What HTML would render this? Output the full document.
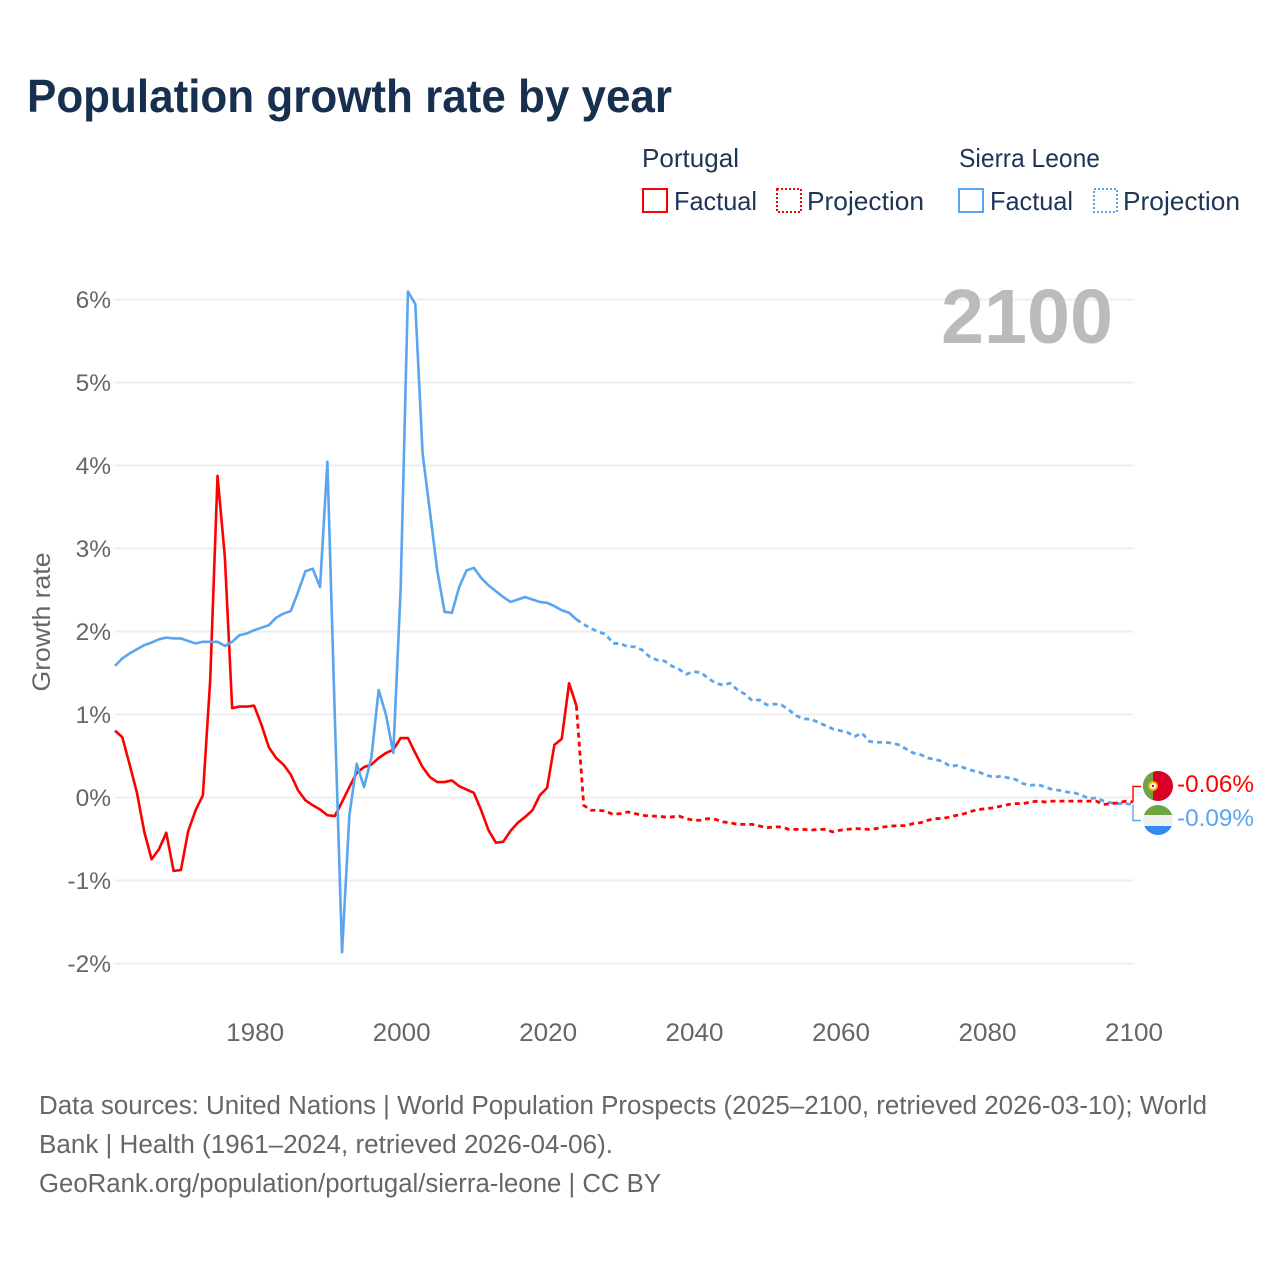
<!DOCTYPE html>
<html lang="en">
<head>
<meta charset="utf-8">
<title>Population growth rate by year</title>
<style>
html,body{margin:0;padding:0;background:#fff;}
svg{display:block;font-family:"Liberation Sans",sans-serif;}
</style>
</head>
<body>
<svg id="chart" xmlns="http://www.w3.org/2000/svg" width="1280" height="1280" viewBox="0 0 1280 1280">
  <rect width="1280" height="1280" fill="#fff"/>
  <text x="27" y="112" font-size="46" font-weight="700" fill="#18304f" textLength="645" lengthAdjust="spacingAndGlyphs">Population growth rate by year</text>

  <g font-size="26" fill="#1d3557">
    <text x="642" y="167" textLength="97" lengthAdjust="spacingAndGlyphs">Portugal</text>
    <rect x="643" y="189" width="24" height="23" fill="none" stroke="#ff0000" stroke-width="2"/>
    <text x="674" y="210" textLength="83" lengthAdjust="spacingAndGlyphs">Factual</text>
    <rect x="777" y="189" width="24" height="23" fill="none" stroke="#ff0000" stroke-width="2" stroke-dasharray="2 2"/>
    <text x="807" y="210" textLength="117" lengthAdjust="spacingAndGlyphs">Projection</text>
    <text x="959" y="167" textLength="141" lengthAdjust="spacingAndGlyphs">Sierra Leone</text>
    <rect x="959" y="189" width="24" height="23" fill="none" stroke="#5aa5ef" stroke-width="2"/>
    <text x="990" y="210" textLength="83" lengthAdjust="spacingAndGlyphs">Factual</text>
    <rect x="1094" y="189" width="23" height="23" fill="none" stroke="#5aa5ef" stroke-width="2" stroke-dasharray="2 2"/>
    <text x="1123" y="210" textLength="117" lengthAdjust="spacingAndGlyphs">Projection</text>
  </g>

  <g id="grid"></g>
  <g id="y-ticks"></g>
  <g id="x-ticks"></g>
  <text transform="translate(50,622) rotate(-90)" text-anchor="middle" font-size="25" fill="#666" textLength="139" lengthAdjust="spacingAndGlyphs">Growth rate</text>

  <text x="941" y="343" font-size="77" font-weight="700" fill="#bbbbbb" textLength="172" lengthAdjust="spacingAndGlyphs">2100</text>

  <g id="series"></g>
  <g id="connectors"></g>

  <defs>
    <clipPath id="clip-pt"><circle cx="1158" cy="786" r="15"/></clipPath>
    <clipPath id="clip-sl"><circle cx="1158" cy="820" r="15"/></clipPath>
  </defs>
  <g clip-path="url(#clip-pt)">
    <rect x="1143" y="771" width="30" height="30" fill="#d80027"/>
    <rect x="1143" y="771" width="10" height="30" fill="#6da544"/>
    <circle cx="1153" cy="786" r="4" fill="#fff" stroke="#f7b500" stroke-width="2"/>
    <rect x="1152" y="785" width="2" height="2" fill="#d80027"/>
  </g>
  <g clip-path="url(#clip-sl)">
    <rect x="1143" y="805" width="30" height="10" fill="#6da544"/>
    <rect x="1143" y="815" width="30" height="11" fill="#f0f0f0"/>
    <rect x="1143" y="826" width="30" height="9" fill="#338af3"/>
  </g>
  <text x="1177" y="792" font-size="24" fill="#ff0000" textLength="77" lengthAdjust="spacingAndGlyphs">-0.06%</text>
  <text x="1177" y="826" font-size="24" fill="#5aa5ef" textLength="77" lengthAdjust="spacingAndGlyphs">-0.09%</text>

  <g font-size="25.5" fill="#666">
    <text x="39" y="1114" textLength="1168" lengthAdjust="spacingAndGlyphs">Data sources: United Nations | World Population Prospects (2025–2100, retrieved 2026-03-10); World</text>
    <text x="39" y="1153" textLength="574" lengthAdjust="spacingAndGlyphs">Bank | Health (1961–2024, retrieved 2026-04-06).</text>
    <text x="39" y="1192" textLength="622" lengthAdjust="spacingAndGlyphs">GeoRank.org/population/portugal/sierra-leone | CC BY</text>
  </g>
</svg>
<script>
const yTickValues = [6, 5, 4, 3, 2, 1, 0, -1, -2];
const yTickLabels = ["6%", "5%", "4%", "3%", "2%", "1%", "0%", "-1%", "-2%"];
const xTickYears = [1980, 2000, 2020, 2040, 2060, 2080, 2100];
const xTickLabels = ["1980", "2000", "2020", "2040", "2060", "2080", "2100"];

const factualStartYear = 1961;
const projectionStartYear = 2024;

const portugalFactual = [0.80,0.72,0.39,0.05,-0.42,-0.75,-0.63,-0.43,-0.89,-0.88,-0.41,-0.16,0.02,1.41,3.87,2.89,1.07,1.09,1.09,1.10,
  0.87,0.60,0.47,0.39,0.27,0.08,-0.04,-0.10,-0.15,-0.22,-0.23,-0.06,0.12,0.29,0.36,0.39,0.47,0.53,0.57,0.71,
  0.71,0.53,0.36,0.24,0.18,0.18,0.20,0.13,0.09,0.05,-0.16,-0.40,-0.55,-0.54,-0.41,-0.31,-0.24,-0.16,0.02,0.11,
  0.63,0.70,1.37,1.10];
const portugalProjection = [1.10,-0.10,-0.16,-0.16,-0.17,-0.21,-0.20,-0.18,-0.20,-0.22,-0.23,-0.23,-0.24,-0.24,-0.23,-0.26,-0.28,-0.28,-0.26,-0.27,
  -0.30,-0.31,-0.33,-0.33,-0.33,-0.35,-0.37,-0.36,-0.36,-0.39,-0.39,-0.39,-0.40,-0.39,-0.39,-0.42,-0.40,-0.39,-0.38,-0.385,
  -0.39,-0.38,-0.36,-0.35,-0.345,-0.345,-0.32,-0.31,-0.28,-0.26,-0.26,-0.24,-0.22,-0.20,-0.17,-0.15,-0.14,-0.13,-0.11,-0.09,
  -0.08,-0.08,-0.06,-0.05,-0.06,-0.05,-0.05,-0.05,-0.05,-0.05,-0.05,-0.05,-0.09,-0.08,-0.07,-0.05,-0.06];

const sierraLeoneFactual = [1.58,1.67,1.73,1.78,1.83,1.86,1.90,1.92,1.91,1.91,1.88,1.85,1.87,1.87,1.87,1.82,1.87,1.95,1.97,2.01,
  2.04,2.07,2.16,2.21,2.24,2.47,2.72,2.75,2.53,4.04,1.01,-1.87,-0.22,0.40,0.12,0.47,1.29,0.99,0.53,2.50,
  6.09,5.94,4.14,3.44,2.73,2.23,2.22,2.53,2.73,2.76,2.64,2.55,2.48,2.41,2.35,2.38,2.41,2.38,2.35,2.34,
  2.30,2.25,2.22,2.14];
const sierraLeoneProjection = [2.14,2.08,2.03,1.99,1.96,1.85,1.85,1.81,1.81,1.77,1.69,1.65,1.64,1.58,1.54,1.48,1.51,1.50,1.43,1.37,
  1.35,1.37,1.29,1.24,1.16,1.17,1.11,1.12,1.11,1.05,0.98,0.94,0.94,0.90,0.86,0.82,0.80,0.78,0.73,0.77,
  0.67,0.66,0.66,0.65,0.63,0.58,0.53,0.51,0.47,0.45,0.43,0.37,0.38,0.35,0.32,0.30,0.26,0.24,0.25,0.23,
  0.21,0.16,0.14,0.15,0.12,0.09,0.08,0.06,0.05,0.02,-0.02,-0.01,-0.05,-0.07,-0.08,-0.08,-0.09];

const NS = "http://www.w3.org/2000/svg";
const PLOT_LEFT = 115, PLOT_RIGHT = 1133, YEAR_MIN = 1961, YEAR_MAX = 2100;
const Y_ZERO = 797, PX_PER_PERCENT = 83;
const RED = "#ff0000", BLUE = "#5aa5ef";

function xScale(year) {
  return PLOT_LEFT + (year - YEAR_MIN) * (PLOT_RIGHT - PLOT_LEFT) / (YEAR_MAX - YEAR_MIN);
}
function yScale(value) {
  return Y_ZERO - value * PX_PER_PERCENT;
}
function linePoints(values, startYear) {
  return values.map(function (v, i) {
    return xScale(startYear + i).toFixed(2) + "," + yScale(v).toFixed(2);
  }).join(" ");
}

const gridGroup = document.getElementById("grid");
const yTickGroup = document.getElementById("y-ticks");
yTickValues.forEach(function (v, i) {
  const line = document.createElementNS(NS, "line");
  
  
  line.setAttribute("x1", PLOT_LEFT);
  line.setAttribute("x2", PLOT_RIGHT);
  line.setAttribute("y1", yScale(v) + 0.5);
  line.setAttribute("y2", yScale(v) + 0.5);
  line.setAttribute("stroke", "#eeeeee");
  line.setAttribute("stroke-width", "2");
  gridGroup.appendChild(line);

  const label = document.createElementNS(NS, "text");
  
  
  label.setAttribute("x", 111);
  label.setAttribute("y", yScale(v) + 9);
  label.setAttribute("text-anchor", "end");
  label.setAttribute("font-size", "24.5");
  label.setAttribute("fill", "#666");
  label.textContent = yTickLabels[i];
  yTickGroup.appendChild(label);
});

const xTickGroup = document.getElementById("x-ticks");
xTickYears.forEach(function (year, i) {
  const label = document.createElementNS(NS, "text");
  
  
  label.setAttribute("x", xScale(year) + 1);
  label.setAttribute("y", 1041);
  label.setAttribute("text-anchor", "middle");
  label.setAttribute("font-size", "25");
  label.setAttribute("fill", "#666");
  label.setAttribute("textLength", "58");
  label.setAttribute("lengthAdjust", "spacingAndGlyphs");
  label.textContent = xTickLabels[i];
  xTickGroup.appendChild(label);
});

const seriesGroup = document.getElementById("series");

const portugalFactualLine = document.createElementNS(NS, "polyline");


portugalFactualLine.setAttribute("points", linePoints(portugalFactual, factualStartYear));
portugalFactualLine.setAttribute("fill", "none");
portugalFactualLine.setAttribute("stroke", RED);
portugalFactualLine.setAttribute("stroke-width", "2.6");
portugalFactualLine.setAttribute("stroke-linejoin", "round");
seriesGroup.appendChild(portugalFactualLine);

const sierraFactualLine = document.createElementNS(NS, "polyline");


sierraFactualLine.setAttribute("points", linePoints(sierraLeoneFactual, factualStartYear));
sierraFactualLine.setAttribute("fill", "none");
sierraFactualLine.setAttribute("stroke", BLUE);
sierraFactualLine.setAttribute("stroke-width", "2.6");
sierraFactualLine.setAttribute("stroke-linejoin", "round");
seriesGroup.appendChild(sierraFactualLine);

const sierraProjectionLine = document.createElementNS(NS, "polyline");


sierraProjectionLine.setAttribute("points", linePoints(sierraLeoneProjection, projectionStartYear));
sierraProjectionLine.setAttribute("fill", "none");
sierraProjectionLine.setAttribute("stroke", BLUE);
sierraProjectionLine.setAttribute("stroke-width", "2.8");
sierraProjectionLine.setAttribute("stroke-dasharray", "5 4");
seriesGroup.appendChild(sierraProjectionLine);

const portugalProjectionLine = document.createElementNS(NS, "polyline");


portugalProjectionLine.setAttribute("points", linePoints(portugalProjection, projectionStartYear));
portugalProjectionLine.setAttribute("fill", "none");
portugalProjectionLine.setAttribute("stroke", RED);
portugalProjectionLine.setAttribute("stroke-width", "2.8");
portugalProjectionLine.setAttribute("stroke-dasharray", "5 4");
seriesGroup.appendChild(portugalProjectionLine);

const connectorGroup = document.getElementById("connectors");

const portugalConnector = document.createElementNS(NS, "polyline");


portugalConnector.setAttribute("points", PLOT_RIGHT + "," + yScale(portugalProjection[portugalProjection.length - 1]) + " " + PLOT_RIGHT + ",786.5 1141,786.5");
portugalConnector.setAttribute("fill", "none");
portugalConnector.setAttribute("stroke", RED);
portugalConnector.setAttribute("stroke-width", "1.4");
connectorGroup.appendChild(portugalConnector);

const sierraConnector = document.createElementNS(NS, "polyline");


sierraConnector.setAttribute("points", PLOT_RIGHT + "," + yScale(sierraLeoneProjection[sierraLeoneProjection.length - 1]) + " " + PLOT_RIGHT + ",820.5 1141,820.5");
sierraConnector.setAttribute("fill", "none");
sierraConnector.setAttribute("stroke", BLUE);
sierraConnector.setAttribute("stroke-width", "1.4");
connectorGroup.appendChild(sierraConnector);
</script>
</body>
</html>
